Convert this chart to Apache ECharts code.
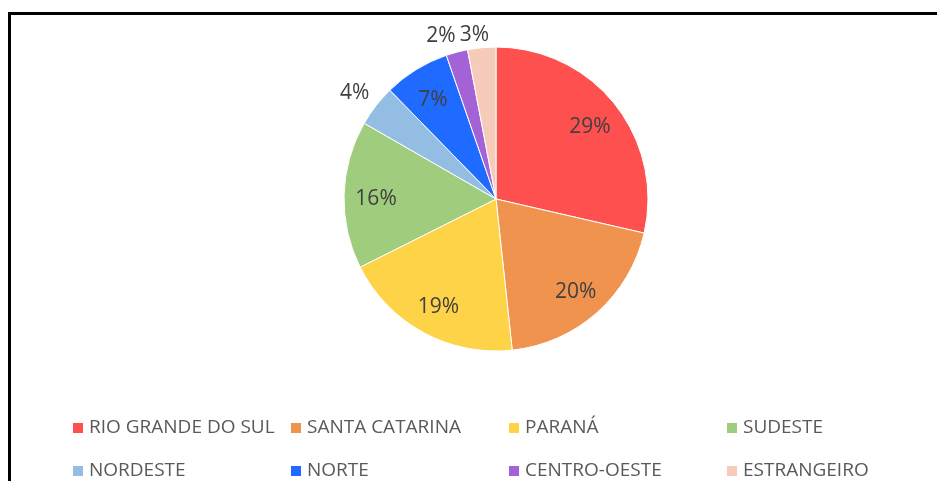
<!DOCTYPE html>
<html>
<head>
<meta charset="utf-8">
<script src="https://cdn.jsdelivr.net/npm/echarts@6/dist/echarts.min.js"></script>
<style>
  html, body { margin: 0; padding: 0; background: #fff; }
  #main { width: 937px; height: 481px; }
</style>
</head>
<body>
<div id="main"></div>
<script>
// regiões (ordem no sentido horário a partir do topo)
var categories = ['RIO GRANDE DO SUL', 'SANTA CATARINA', 'PARANÁ', 'SUDESTE',
                  'NORDESTE', 'NORTE', 'CENTRO-OESTE', 'ESTRANGEIRO'];
var values = [28.6, 19.7, 19.3, 15.7, 4.4, 7.0, 2.3, 3.0];
var colors = ['#FF5050', '#F0934F', '#FFD347', '#9FCC7D',
              '#93BDE3', '#1F6BFF', '#A362D6', '#F7CBBA'];
// fatias pequenas levam o rótulo por fora
var outsideLabel = ['NORDESTE', 'CENTRO-OESTE', 'ESTRANGEIRO'];
// pequeno ajuste para os rótulos de cima não se encostarem
var labelNudge = { 'NORDESTE': [-3, 1], 'CENTRO-OESTE': [-10, 6], 'ESTRANGEIRO': [-5, 10] };

var myChart = echarts.init(document.getElementById('main'));

var center = [496, 199];
var pct = function (p) { return Math.round(p.percent) + '%'; };
var labelFont = { color: '#404040', fontSize: 21, fontFamily: 'Open Sans' };

var mainData = categories.map(function (c, i) {
    return { name: c, value: values[i], itemStyle: { color: colors[i] } };
});
function labelData(outside) {
    return categories.map(function (c, i) {
        var show = (outsideLabel.indexOf(c) >= 0) === outside;
        var lab = { show: show, offset: labelNudge[c] || [0, 3] };
        return { name: c, value: values[i], label: lab };
    });
}
var ghost = { color: 'rgba(0,0,0,0)', borderWidth: 0 };

var option = {
    animation: false,
    graphic: [
        { type: 'rect', shape: { x: 8, y: 12, width: 929, height: 3 }, style: { fill: '#000' } },
        { type: 'rect', shape: { x: 8, y: 12, width: 3, height: 469 }, style: { fill: '#000' } }
    ],
    legend: {
        data: categories,
        left: 71,
        top: 409,
        width: 880,
        padding: 0,
        itemWidth: 12,
        itemHeight: 12,
        itemGap: 5,
        icon: 'rect',
        selectedMode: false,
        textStyle: { color: '#595959', fontSize: 19, fontFamily: 'Open Sans', width: 195, lineHeight: 38 }
    },
    series: [
        {
            type: 'pie',
            center: center,
            radius: [0, 152],
            startAngle: 90,
            clockwise: true,
            label: { show: false },
            labelLine: { show: false },
            itemStyle: { borderColor: '#fff', borderWidth: 1 },
            data: mainData
        },
        {
            type: 'pie',
            center: center,
            radius: [82, 152],
            startAngle: 90,
            silent: true,
            legendHoverLink: false,
            itemStyle: ghost,
            label: Object.assign({ position: 'inside', formatter: pct }, labelFont),
            labelLine: { show: false },
            data: labelData(false)
        },
        {
            type: 'pie',
            center: center,
            radius: [152, 192],
            startAngle: 90,
            silent: true,
            legendHoverLink: false,
            itemStyle: ghost,
            label: Object.assign({ position: 'inside', formatter: pct }, labelFont),
            labelLine: { show: false },
            data: labelData(true)
        }
    ]
};

myChart.setOption(option);
</script>
</body>
</html>
